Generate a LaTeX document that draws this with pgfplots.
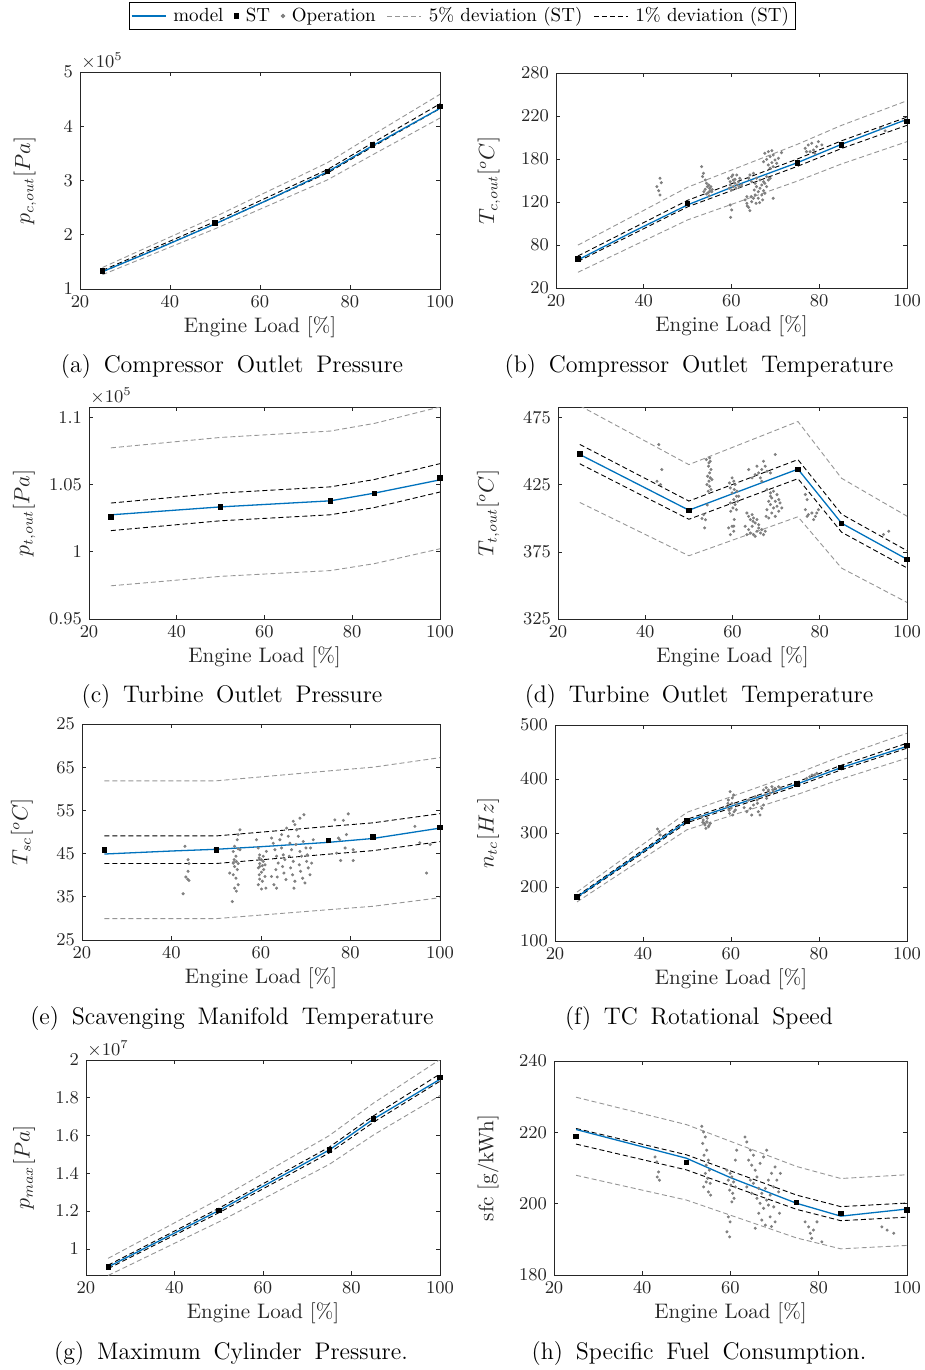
\documentclass[border=0pt]{standalone}
\usepackage{pgfplots}
\pgfplotsset{compat=1.18}
\definecolor{mblue}{RGB}{0,114,189}
\definecolor{axgray}{RGB}{38,38,38}
\definecolor{opgray}{RGB}{128,128,128}
\definecolor{devgray}{RGB}{150,150,150}
\newcommand{\capt}[1]{{\fontsize{12}{14}\selectfont\spaceskip=6.4pt plus 1pt\relax #1}}
\pgfplotsset{
  base/.style={scale only axis, anchor=north west, xmin=20, xmax=100,
    xtick={20,40,60,80,100}, tick align=inside, major tick length=2pt,
    axis line style={axgray, line width=0.4pt},
    every tick/.style={axgray, line width=0.4pt},
    tick label style={font=\fontsize{9}{10}\selectfont, text=axgray},
    label style={font=\fontsize{10.5}{12}\selectfont, text=axgray},
    xlabel={Engine Load [\%]},
    xlabel style={at={(rel axis cs:0.5,0)}, anchor=center, yshift=-19.3pt},
    every y tick scale label/.style={at={(rel axis cs:0,1)}, anchor=south west, inner sep=0.5pt, yshift=0.5pt, font=\fontsize{9}{10}\selectfont, text=axgray},
    ytick scale label code/.code={$\times 10^{##1}$},
    scaled x ticks=false},
  yl/.style={ylabel style={at={(axis description cs:-#1,0.5)}, anchor=center}},
  model/.style={mblue, line width=0.65pt, no marks},
  st/.style={only marks, mark=square*, mark size=1.1pt, black},
  op/.style={only marks, mark=*, mark size=0.55pt, mark options={draw=opgray, fill=opgray}},
  dev5/.style={devgray, line width=0.45pt, dash pattern=on 2.5pt off 1.5pt, no marks},
  dev1/.style={black, line width=0.45pt, dash pattern=on 2.5pt off 1.5pt, no marks},
}
\begin{document}
\begin{tikzpicture}
\path[use as bounding box] (0pt,0pt) rectangle (462.5pt,-685pt);

% (a)
\begin{axis}[base, at={(40pt,-36pt)}, width=180pt, height=108.5pt,
  ymin=100000, ymax=500000, ytick={100000,200000,300000,400000,500000},
  scaled y ticks=base 10:-5, ylabel={$p_{c,out}[Pa]$}, yl=0.153,
  legend style={at={(axis description cs:1.0611,1.3226)}, anchor=north,
    draw=black, line width=0.4pt, font=\fontsize{9.5}{11}\selectfont,
    inner xsep=1pt, inner ysep=0.5pt, text=black,
    /tikz/every odd column/.append style={column sep=1.5pt},
    /tikz/every even column/.append style={column sep=3.5pt}},
  legend columns=-1,
  legend entries={model, ST, Operation, 5\% deviation (ST), 1\% deviation (ST)}]
\addlegendimage{model}
\addlegendimage{st}
\addlegendimage{op, mark size=0.9pt}
\addlegendimage{dev5}
\addlegendimage{dev1}
\addplot[dev5] coordinates {(25,139650)(50,233100)(75,332850)(85,383780)(100,458850)};
\addplot[dev5] coordinates {(25,126350)(50,210900)(75,301150)(85,347230)(100,415150)};
\addplot[dev1] coordinates {(25,134330)(50,224220)(75,320170)(85,369160)(100,441370)};
\addplot[dev1] coordinates {(25,131670)(50,219780)(75,313830)(85,361850)(100,432630)};
\addplot[model] coordinates {(25,132000)(37.5,175000)(50,220000)(62.5,267000)(75,316000)(85,364000)(100,433000)};
\addplot[st] coordinates {(25,133000)(50,222000)(75,317000)(85,365500)(100,437000)};
\end{axis}

% (b)
\begin{axis}[base, at={(278pt,-36.5pt)}, width=175.5pt, height=107.5pt,
  ymin=20, ymax=280, ytick={20,72,124,176,228,280}, yticklabels={20,80,120,180,220,280},
  ylabel={$T_{c,out}[^oC]$}, yl=0.191]
\addplot[op] coordinates {(43.7,152.7)(44.0,147.4)(43.0,142.6)(43.4,137.7)(43.7,132.5)
(53.2,166.8)(53.6,158.7)(53.4,154.7)(54.0,150.6)(54.3,146.6)(54.5,142.6)(55.0,140.6)(54.0,139.4)(55.1,137.7)(54.7,135.3)(54.3,133.7)(55.3,142.6)(54.8,144.6)(53.7,136.5)(55.5,136.5)(54.9,131.5)(55.6,139)
(59.3,152.7)(59.7,148.6)(60.05,154.7)(60.4,150.6)(60.8,146.6)(61.2,156.7)(59.7,144.6)(60.4,142.6)(61.0,140.6)(61.6,148.6)(61.9,152.7)(60.05,138.5)(60.8,151.4)(61.3,144.6)(59.5,140.6)(62.3,144.6)(60.6,147.4)(60.3,156.7)(61.8,142.6)(59.7,120.4)(60.05,114.4)(59.8,105.5)
(63.1,126.5)(63.5,122.4)(63.9,117.6)(64.2,113.6)(63.6,119.2)(64.6,124.4)(65.0,128.5)(65.4,132.5)(65.2,138.5)(65.7,142.6)(66.1,136.5)(66.5,140.6)(66.9,144.6)(67.3,148.6)(67.6,146.6)(68.0,142.6)(66.9,132.5)(66.1,128.5)(65.6,122.4)(67.3,137.7)(66.5,150.6)(65.7,152.7)(65.0,158.7)(64.2,156.7)(63.9,152.7)(64.6,148.6)(65.4,146.6)(68.4,150.6)(68.0,154.7)(68.8,152.7)(67.6,134.5)(67.1,126.5)(66.4,123.2)(64.5,130.5)(63.5,130.5)
(67.6,182.9)(68.4,184.9)(69.2,186.1)(69.5,180.9)(68.8,178.9)(68.0,175.6)(69.9,174.8)(70.3,170.8)(69.2,171.6)(68.4,168.8)(69.5,166.8)(70.7,176.8)(67.3,172.8)(68.8,164.8)(71.4,183.7)(69.5,128.5)
(76.8,188.9)(77.5,193)(78.3,195)(78.7,186.9)(79.4,191)(77.9,184.9)(79.8,197)(79.0,182.9)(77.1,184.9)(80.6,193)
(94,213)(95,210)(99.5,222)};
\addplot[dev5] coordinates {(25,71.83)(50,141.86)(75,193.73)(85,216.52)(100,246.44)};
\addplot[dev5] coordinates {(25,38.97)(50,102.34)(75,149.27)(85,169.88)(100,196.96)};
\addplot[dev1] coordinates {(25,58.69)(50,126.05)(75,175.95)(85,197.86)(100,226.65)};
\addplot[dev1] coordinates {(25,52.11)(50,118.15)(75,167.05)(85,188.54)(100,216.75)};
\addplot[model] coordinates {(25,54)(37.5,88)(50,120.5)(62.5,147)(75,171.5)(85,193.6)(100,224)};
\addplot[st] coordinates {(25,55.4)(50,122.1)(75,171.5)(85,193.2)(100,221.7)};
\end{axis}

% (c)
\begin{axis}[base, at={(44.5pt,-203.5pt)}, width=175.5pt, height=106pt,
  ymin=95000, ymax=110770, ytick={95000,100000,105000,110000},
  scaled y ticks=base 10:-5, ylabel={$p_{t,out}[Pa]$}, yl=0.185]
\addplot[dev5] coordinates {(25,107730)(50,108507)(75,108980)(85,109547)(100,110775)};
\addplot[dev5] coordinates {(25,97470)(50,98173)(75,98601)(85,99114)(100,100225)};
\addplot[dev1] coordinates {(25,103626)(50,104373)(75,104829)(85,105373)(100,106555)};
\addplot[dev1] coordinates {(25,101574)(50,102307)(75,102752)(85,103287)(100,104445)};
\addplot[model] coordinates {(25,102750)(50,103340)(75,103790)(85,104360)(100,105350)};
\addplot[st] coordinates {(25,102600)(50,103340)(75,103790)(85,104330)(100,105500)};
\end{axis}

% (d)
\begin{axis}[base, at={(279pt,-203.5pt)}, width=174.5pt, height=106pt,
  ymin=325, ymax=483, ytick={325,375,425,475},
  ylabel={$T_{t,out}[^oC]$}, yl=0.2]
\addplot[op] coordinates {(43.1,455)(43.8,436.4)(42.7,427.7)(43.5,425.2)
(54.75,445.1)(54.9,442.6)(54.5,438.9)(55.06,436.4)(54.75,433.9)(54.3,431.4)(54.9,430.2)(54.6,427.7)(55.29,428.9)(54.14,425.2)(54.75,423.9)(55.06,421.5)(54.45,420.2)(53.99,443.8)(54.6,441.4)(53.4,402.8)(53.8,399)(53.6,392.9)(53.0,399.9)(54.2,410)
(59.9,430.2)(60.3,427.7)(60.6,425.2)(59.5,422.7)(60.4,421.5)(61.0,420.2)(59.9,419)(60.9,416.5)(60.3,414)(59.5,411.5)(60.6,410.3)(61.2,412.7)(60.1,407.8)(59.6,405.3)(60.9,406.5)(61.4,416.5)(59.3,426.4)(60.4,399.1)(59.9,394.1)(60.3,390.4)(59.5,387.9)(59.1,392.9)(60.3,394.2)
(63.3,404.0)(63.7,401.5)(64.1,399.1)(64.5,402.8)(64.8,400.3)(65.2,396.6)(64.5,394.1)(63.7,391.6)(64.1,389.1)(64.8,387.9)(65.6,390.4)(66.0,392.8)(65.2,386.6)(66.4,389.1)(66.7,391.6)(67.1,387.9)(67.5,390.4)(63.3,387.9)(62.9,394.1)(64.7,397.8)(65.6,399.1)(66.0,395.3)
(67.9,421.5)(68.7,419)(69.4,420.2)(70.2,417.7)(69.0,415.2)(68.3,412.7)(69.8,412.7)(70.6,414)(68.7,410.3)(69.4,407.8)(70.2,409)(70.9,411.5)(67.9,406.5)(69.0,404)(69.8,401.5)(68.3,400.3)(70.6,405.3)(71.3,407.8)(68.7,416.5)(67.7,401.5)
(63.7,436.4)(66.0,433.9)(67.1,442.6)(67.5,438.9)(66.7,436.4)(65.6,438.9)(67.9,435.1)(66.7,427.7)(68.7,433.9)(69.8,447.6)(64.5,430.2)(66.4,430.2)(65.2,432.6)
(76.7,406.5)(77.4,402.8)(78.2,404)(79.0,401.5)(79.3,404)(77.1,401.5)(78.6,399.1)(79.7,406.5)(76.7,417.8)(77.1,414)
(94.6,388)(95.8,390.4)};
\addplot[dev5] coordinates {(25,483.95)(50,440.06)(75,472.19)(85,429.88)(100,401.63)};
\addplot[dev5] coordinates {(25,411.85)(50,372.14)(75,401.21)(85,362.92)(100,337.37)};
\addplot[dev1] coordinates {(25,455.11)(50,412.89)(75,443.8)(85,403.1)(100,375.93)};
\addplot[dev1] coordinates {(25,440.69)(50,399.31)(75,429.6)(85,389.7)(100,363.07)};
\addplot[model] coordinates {(25,447.6)(50,406.1)(75,436.7)(85,396.4)(100,369.5)};
\addplot[st] coordinates {(25,447.9)(50,406.1)(75,436.7)(85,396.4)(100,369.5)};
\end{axis}

% (e)
\begin{axis}[base, at={(41pt,-362pt)}, width=179pt, height=108pt,
  ymin=25, ymax=75, ytick={25,35,45,55,65,75}, yticklabels={25,35,45,55,65,25},
  ylabel={$T_{sc}[^oC]$}, yl=0.168]
\addplot[op] coordinates {(43.0,46.7)(43.7,43.6)(43.9,42.7)(43.7,40.9)(43.2,39.6)(43.6,39.1)(43.9,38.8)(42.6,35.7)
(55.3,50.5)(54.9,49.4)(54.7,48.2)(54.1,46.7)(54.9,46.1)(53.8,45.5)(54.4,44.4)(54.0,43.6)(54.5,43.2)(54.9,42.7)(54.1,42.0)(54.7,41.3)(53.8,40.1)(54.4,39.3)(54.9,37.8)(54.1,37.0)(54.5,36.3)(53.6,33.9)(53.0,40.5)(55.3,45.9)(53.8,42.8)
(59.0,48.2)(59.4,46.3)(59.7,44.7)(59.6,44.0)(60.1,43.6)(60.5,43.2)(59.7,42.7)(60.3,42.2)(59.4,41.7)(60.6,41.3)(60.1,40.7)(59.6,40.1)(60.9,39.7)(59.7,39.1)(60.3,38.6)(59.4,37.8)(61.1,37.0)(60.1,36.8)(59.7,42.0)(60.5,44.4)(61.2,45.5)(60.9,42.4)
(62.36,48.6)(62.73,47.4)(63.11,45.9)(63.48,44.4)(63.85,42.8)(63.33,41.3)(63.63,39.6)(64.22,48.2)(64.6,46.3)(64.97,44.7)(65.34,43.6)(64.82,42.0)(65.12,40.5)(65.57,39.0)(63.48,37.0)(66.09,49.0)(66.46,47.4)(66.83,45.9)(66.31,44.4)(67.21,43.2)(66.61,41.7)(67.06,40.1)(67.58,38.6)(67.36,37.0)(67.95,50.5)(68.33,49.0)(67.8,47.1)(68.7,45.5)(69.07,44.4)(68.55,42.4)(68.85,40.9)(69.3,39.3)(69.82,38.2)(69.44,47.8)(70.04,46.3)(70.34,44.7)(70.19,43.2)(70.56,41.7)(70.94,40.1)(71.31,42.8)(71.68,48.2)(71.08,46.3)(67.21,52.5)(67.58,51.7)(68.7,53.2)(69.59,54.0)(65.72,50.9)(64.6,49.4)(62.36,39.7)(62.88,37.8)
(76.5,52.8)(78.4,52.7)(79.5,54.2)(77.3,48.6)(79.1,49.4)(76.9,45.1)(78.8,46.3)(80.6,45.9)(77.8,43.4)(80.6,43.4)(77.6,48.2)
(94.4,51.3)(95.5,47.5)(97.0,40.5)(97.8,47.1)};
\addplot[dev5] coordinates {(25,61.85)(50,61.85)(75,64.13)(85,65.0)(100,67.21)};
\addplot[dev5] coordinates {(25,29.95)(50,29.95)(75,32.01)(85,32.8)(100,34.79)};
\addplot[dev1] coordinates {(25,49.09)(50,49.09)(75,51.28)(85,52.12)(100,54.24)};
\addplot[dev1] coordinates {(25,42.71)(50,42.71)(75,44.86)(85,45.68)(100,47.76)};
\addplot[model] coordinates {(25,44.9)(40,45.6)(50,46.0)(60,46.6)(75,47.6)(85,48.5)(100,50.9)};
\addplot[st] coordinates {(25,45.9)(50,45.9)(75,48.07)(85,48.9)(100,51.0)};
\end{axis}

% (f)
\begin{axis}[base, at={(277.5pt,-362.5pt)}, width=176pt, height=108pt,
  ymin=100, ymax=500, ytick={100,200,300,400,500},
  ylabel={$n_{tc}[Hz]$}, yl=0.19]
\addplot[op] coordinates {(43.3,307.4)(43.7,302.5)(43.9,296.3)
(53.4,330.2)(53.7,324.1)(54.5,321)(54.1,314.8)(54.9,311.7)(54.3,308.6)(55.3,317.9)(53.6,319.8)(54.6,327.2)(55.0,314)(54.0,318)
(59.8,376.5)(60.6,370.4)(59.4,361.1)(60.2,354.9)(59.0,348.8)(60.0,345.7)(60.7,339.5)(59.7,336.4)(60.4,333.3)(61.0,342.6)(59.3,354.9)(61.3,351.9)(60.3,365)(59.6,342)
(63.6,339.5)(64.4,345.7)(65.1,351.9)(65.9,361.1)(64.7,333.3)(66.2,339.5)(67.0,345.7)(66.6,333.3)(65.5,367.3)(67.4,351.9)(64.0,361.1)(63.0,347)(66.0,355)
(67.8,370.4)(68.5,379.6)(69.3,385.8)(70.0,382.7)(70.8,385.8)(68.9,373.5)(68.1,364.2)(69.7,376.5)(67.4,379.6)(68.0,384)(69.5,380)(71.3,383)
(77.2,401.2)(78.4,407.4)(79.5,410.5)(77.9,404.3)(79.0,407.4)};
\addplot[dev5] coordinates {(25,190.58)(50,338.31)(75,410.24)(85,442.05)(100,484.79)};
\addplot[dev5] coordinates {(25,172.43)(50,306.09)(75,371.17)(85,399.95)(100,438.62)};
\addplot[dev1] coordinates {(25,183.32)(50,325.42)(75,394.61)(85,425.21)(100,466.32)};
\addplot[dev1] coordinates {(25,179.69)(50,318.98)(75,386.79)(85,416.79)(100,457.08)};
\addplot[model] coordinates {(25,181.5)(50,322)(75,390.7)(85,421)(100,460.5)};
\addplot[st] coordinates {(25,181.5)(50,322.2)(75,390.7)(85,421)(100,461.7)};
\end{axis}

% (g)
\begin{axis}[base, at={(43pt,-530pt)}, width=177pt, height=107.5pt,
  ymin=8620000, ymax=20000000, ytick={10000000,12000000,14000000,16000000,18000000,20000000},
  scaled y ticks=base 10:-7, ylabel={$p_{max}[Pa]$}, yl=0.175]
\addplot[dev5] coordinates {(25,9502500)(50,12631500)(75,16002000)(85,17724000)(100,20023500)};
\addplot[dev5] coordinates {(25,8597500)(50,11428500)(75,14478000)(85,16036000)(100,18116500)};
\addplot[dev1] coordinates {(25,9140500)(50,12150300)(75,15392400)(85,17048800)(100,19260700)};
\addplot[dev1] coordinates {(25,8959500)(50,11909700)(75,15087600)(85,16711200)(100,18879300)};
\addplot[model] coordinates {(25,9050000)(50,12030000)(75,15240000)(85,16880000)(100,18980000)};
\addplot[st] coordinates {(25,9050000)(50,12030000)(75,15240000)(85,16880000)(100,19070000)};
\end{axis}

% (h)
\begin{axis}[base, at={(277pt,-530.5pt)}, width=176.5pt, height=107pt,
  ymin=180, ymax=240, ytick={180,200,220,240},
  ylabel={sfc [g/kWh]}, yl=0.187]
\addplot[op] coordinates {(42.9,213.1)(43.3,211.7)(43.7,208.9)(43.4,207.5)(43.9,206.6)
(53.5,221.7)(53.9,220.1)(54.3,218.7)(53.7,216.9)(54.6,215)(54.0,213.6)(55.0,212.2)(54.5,210.8)(55.2,209.4)(54.3,208.5)(54.8,207.1)(55.4,205.7)(53.9,204.7)(55.0,203.3)(55.5,202.4)(54.5,206.1)
(59.2,209.4)(59.9,208.5)(60.3,207.5)(59.5,206.6)(60.7,206.1)(60.1,205.2)(61.1,204.7)(59.8,203.8)(60.5,202.9)(60.8,201.5)(60.3,200.5)(59.5,196.3)(59.9,194.9)(59.2,192.1)(59.8,190.7)(61.4,215)(61.1,212.2)
(63.3,218.7)(63.7,217.3)(64.5,215)(65.2,213.6)(64.1,212.2)(64.8,210.8)(65.6,209.4)(66.0,207.5)(65.2,205.7)(66.4,204.3)(67.1,202.9)(66.0,201.5)(66.7,200.1)(67.5,198.7)(66.4,197.3)(67.1,195.4)(67.9,194.0)(65.6,193.1)(68.2,201)(69.0,202.4)(69.8,204.7)(68.6,206.6)(69.3,208.5)(70.1,210.3)(70.5,206.6)(70.9,203.3)(69.8,199.1)(69.0,196.3)(70.1,194.9)(68.2,215)(67.5,213.1)(66.7,211.3)(64.5,206.6)(63.7,204.7)(64.8,202.9)(67.9,204.3)(68.6,199.6)(71.1,197.3)(69.3,193.6)(71.3,208.5)
(76.9,194.9)(77.7,193.5)(78.1,191.7)(78.8,192.6)(79.6,194.9)(78.4,190.3)(80.7,189.3)
(94.3,193.5)(95.5,192.6)(97.0,191.7)};
\addplot[dev5] coordinates {(25,229.85)(50,222.18)(75,210.42)(85,207.06)(100,208.11)};
\addplot[dev5] coordinates {(25,207.96)(50,201.02)(75,190.38)(85,187.34)(100,188.29)};
\addplot[dev1] coordinates {(25,221.09)(50,213.72)(75,202.40)(85,199.17)(100,200.18)};
\addplot[dev1] coordinates {(25,216.71)(50,209.48)(75,198.40)(85,195.23)(100,196.22)};
\addplot[model] coordinates {(25,220.8)(50,212.75)(60,207.3)(75,200.1)(85,196.5)(100,198.5)};
\addplot[st] coordinates {(25,218.9)(50,211.6)(75,200.4)(85,197.2)(100,198.2)};
\end{axis}

\begin{scope}[every node/.style={inner sep=0pt}]
\node at (116pt,-183.5pt) {\capt{(a) Compressor Outlet Pressure}};
\node at (349.5pt,-183.5pt) {\capt{(b) Compressor Outlet Temperature}};
\node at (116pt,-348.5pt) {\capt{(c) Turbine Outlet Pressure}};
\node at (349.5pt,-348.5pt) {\capt{(d) Turbine Outlet Temperature}};
\node at (116pt,-509pt) {\capt{(e) Scavenging Manifold Temperature}};
\node at (349.5pt,-509pt) {\capt{(f) TC Rotational Speed}};
\node at (115.5pt,-676.5pt) {\capt{(g) Maximum Cylinder Pressure.}};
\node at (349.5pt,-676.5pt) {\capt{(h) Specific Fuel Consumption.}};
\end{scope}
\end{tikzpicture}
\end{document}
